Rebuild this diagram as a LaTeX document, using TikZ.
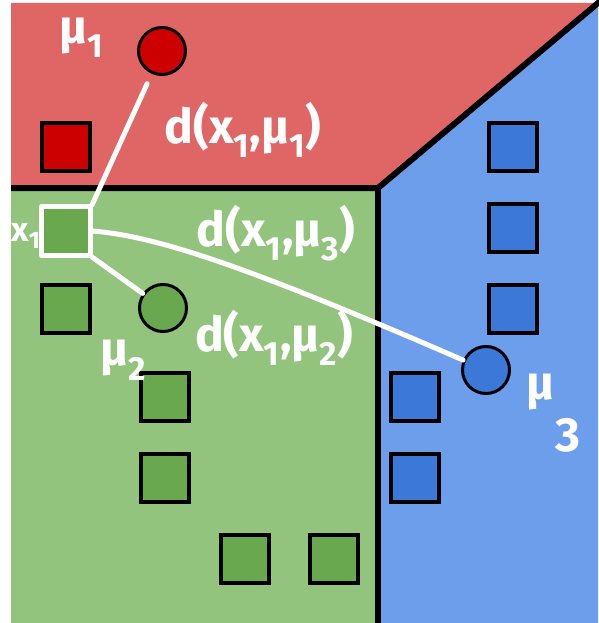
\documentclass[tikz,border=0pt]{standalone}
\usepackage{fontspec}
\setmainfont{Fira Sans}
\definecolor{bgred}{HTML}{E06666}
\definecolor{bggreen}{HTML}{93C47D}
\definecolor{bgblue}{HTML}{6D9EEB}
\definecolor{sqred}{HTML}{CC0000}
\definecolor{sqgreen}{HTML}{6AA84F}
\definecolor{sqblue}{HTML}{3C78D8}
\begin{document}
\begin{tikzpicture}[x=1pt,y=-1pt,
  sq/.style={draw=black,line width=4pt,rectangle,minimum size=48pt,inner sep=0pt},
  dot/.style={draw=black,line width=3pt,circle,minimum size=47pt,inner sep=0pt},
  bound/.style={line width=6pt,black},
  wl/.style={white,line width=5pt,line cap=round,line join=round},
  lab/.style={text=white,font=\fontsize{48}{48}\selectfont\bfseries,inner sep=0pt},
  slab/.style={text=white,font=\fontsize{34}{34}\selectfont\bfseries,inner sep=0pt}]
\useasboundingbox (0,0) rectangle (598,623);
% regions
\fill[bgred] (11,3) -- (598,3) -- (378,188) -- (11,188) -- cycle;
\fill[bggreen] (11,188) rectangle (378,623);
\fill[bgblue] (378,188) -- (598,3) -- (598,623) -- (378,623) -- cycle;
\draw[bound] (11,188) -- (378,188) -- (601,0.5);
\draw[bound] (378,188) -- (378,623);
% red cluster
\node[sq,fill=sqred] (r1) at (66,147) {};
\node[dot,fill=sqred] (m1) at (162,51) {};
% blue cluster
\node[sq,fill=sqblue] (b1) at (513,147) {};
\node[sq,fill=sqblue] (b2) at (513,228) {};
\node[sq,fill=sqblue] (b3) at (513,309) {};
\node[sq,fill=sqblue] (b4) at (415,397) {};
\node[sq,fill=sqblue] (b5) at (415,478) {};
\node[dot,fill=sqblue] (m3) at (486,370) {};
% green cluster
\node[sq,fill=sqgreen] (x1) at (66,231) {};
\node[sq,fill=sqgreen] (g2) at (66,309) {};
\node[sq,fill=sqgreen] (g3) at (165,397) {};
\node[sq,fill=sqgreen] (g4) at (165,478) {};
\node[sq,fill=sqgreen] (g5) at (245,559) {};
\node[sq,fill=sqgreen] (g6) at (334,559) {};
\node[dot,fill=sqgreen] (m2) at (163,308) {};
% highlight of x1
\draw[white,line width=5pt,line join=round] ([shift={(1.5,1.5)}]x1.north west) rectangle ([shift={(-1.5,-1.5)}]x1.south east);
% distances
\draw[wl,shorten <=11pt] (m1) -- (x1.north east);
\draw[wl] (x1.south east) -- (m2);
\draw[wl] (x1.east) .. controls (160,236) and (260,272) .. (m3);
% labels
\node[lab] (lm1) at (82,38) {μ\textsubscript{1}};
\node[lab] (ld1) at (243,130) {d(x\textsubscript{1},μ\textsubscript{1})};
\node[slab] (lx) at (26,236) {x\textsubscript{1}};
\node[lab] (ld3) at (276,233) {d(x\textsubscript{1},μ\textsubscript{3})};
\node[lab] (ld2) at (274,338) {d(x\textsubscript{1},μ\textsubscript{2})};
\node[lab] (lm2) at (123,360) {μ\textsubscript{2}};
\node[lab] (lm3) at (540,392) {μ};
\node[lab] (lm3s) at (568,435) {3};
\end{tikzpicture}
\end{document}
